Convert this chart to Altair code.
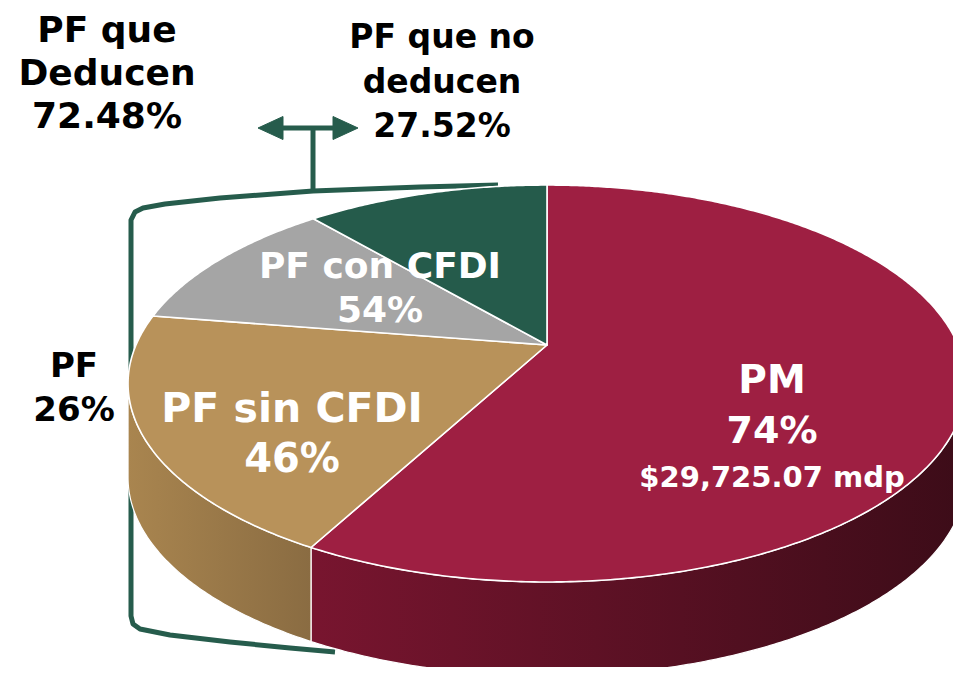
import math
import altair as alt
import pandas as pd

# ---------------- data ----------------
slice_names = ["PM", "PF sin CFDI", "PF con CFDI", "PF que no deducen"]
# share of the disc each slice occupies as drawn (percent, clockwise from 12 o'clock)
slice_shares = [57.9, 19.6, 11.2, 11.3]

pm_lines = ["PM", "74%", "$29,725.07 mdp"]
sin_lines = ["PF sin CFDI", "46%"]
con_lines = ["PF con CFDI", "54%"]
pf_lines = ["PF", "26%"]
deducen_lines = ["PF que", "Deducen", "72.48%"]
no_deducen_lines = ["PF que no", "deducen", "27.52%"]

# ---------------- styles ----------------
slice_colors = ["#9E1F42", "#B8925A", "#A5A5A5", "#255B4B"]
side_gradients = {
    "PM": ["#78152F", "#3C0C18"],
    "PF sin CFDI": ["#A9854F", "#8A6C42"],
    "PF con CFDI": ["#8A8A8A", "#7A7A7A"],
    "PF que no deducen": ["#1E4A3D", "#173A30"],
}
BRACKET = "#265C4C"
FONT = "DejaVu Sans"

# ---------------- layout / geometry ----------------
W, H = 945, 659
OFF = 8                     # page margin: geometry is computed in page pixels
X0, Y0 = 547.0, 345.0       # pie apex
A, B, K = 411.0, 191.0, 0.194  # perspective disc parameters
DEPTH = 94.0

TH_R = math.degrees(math.acos(-K))   # right silhouette angle
TH_L = 360.0 - TH_R                  # left silhouette angle


def P(theta, dy=0.0):
    t = math.radians(theta)
    u, v = math.sin(t), -math.cos(t)
    d = 1.0 - K * v
    return [X0 + A * u / d, Y0 + B * v / d + dy]


def arc_pts(a, b, step=0.5):
    n = max(2, int(abs(b - a) / step) + 1)
    return [a + (b - a) * i / (n - 1) for i in range(n)]


def feature(ring, name, kind="Polygon"):
    coords = [ring] if kind == "Polygon" else ring
    return {"type": "Feature", "properties": {"name": name},
            "geometry": {"type": kind, "coordinates": coords}}


top_feats, side_feats = [], []
start = 0.0
for name, share in zip(slice_names, slice_shares):
    a, b = start, start + share * 3.6
    start = b
    ring = [[X0, Y0]] + [P(t) for t in arc_pts(a, b)] + [[X0, Y0]]
    top_feats.append(feature(ring, name))
    lo, hi = max(a, TH_R), min(b, TH_L)
    if hi > lo:
        ts = arc_pts(lo, hi)
        ring = [P(t) for t in ts] + [P(t, DEPTH) for t in reversed(ts)]
        ring.append(ring[0])
        side_feats.append((name, feature(ring, name)))

proj = dict(type="identity", scale=1, translate=[-OFF, -OFF])

layers = []

# bracket (behind the pie)
bracket_path = [[498, 185], [420, 187], [313, 191], [220, 198], [165, 204],
                [143, 208], [135, 212], [131, 220], [131, 616], [133, 624],
                [140, 629], [170, 635], [230, 642], [290, 648], [335, 652]]
arrow_lines = [bracket_path, [[313, 191], [313, 128]], [[278, 128], [338, 128]]]
layers.append(
    alt.Chart(alt.Data(values=[feature(p, "b", "LineString") for p in arrow_lines]))
    .mark_geoshape(filled=False, stroke=BRACKET, strokeWidth=5, strokeJoin="round")
    .project(**proj)
)
heads = [
    [[258, 128], [283, 116.5], [283, 139.5], [258, 128]],
    [[358, 128], [333, 116.5], [333, 139.5], [358, 128]],
]
layers.append(
    alt.Chart(alt.Data(values=[feature(h, "h") for h in heads]))
    .mark_geoshape(fill=BRACKET, stroke=BRACKET, strokeWidth=1)
    .project(**proj)
)

# side walls
for name, feat in side_feats:
    c0, c1 = side_gradients[name]
    grad = alt.LinearGradient(
        gradient="linear", x1=0, x2=1, y1=0, y2=0,
        stops=[alt.GradientStop(color=c0, offset=0), alt.GradientStop(color=c1, offset=1)],
    )
    layers.append(
        alt.Chart(alt.Data(values=[feat]))
        .mark_geoshape(fill=grad, stroke="white", strokeWidth=1.2, strokeJoin="round")
        .project(**proj)
    )

# top faces
layers.append(
    alt.Chart(alt.Data(values=top_feats))
    .mark_geoshape(stroke="white", strokeWidth=1.6, strokeJoin="round")
    .encode(fill=alt.Fill("properties.name:N",
                          scale=alt.Scale(domain=slice_names, range=slice_colors),
                          legend=None))
    .project(**proj)
)

# texts
rows = []


def add(lines, x, ys, sizes, color):
    for t, y, s in zip(lines, ys, sizes):
        rows.append({"t": t, "x": x, "y": y, "fs": s, "col": color})


add(deducen_lines, 107, [42, 85, 128], [36, 36, 36], "#000000")
add(no_deducen_lines, 442, [48, 92.5, 137], [33, 33, 33], "#000000")
add(pf_lines, 74, [377, 421], [34, 34], "#000000")
add(con_lines, 380, [278, 322], [36, 36], "#FFFFFF")
add(sin_lines, 292, [422, 472], [41, 40], "#FFFFFF")
add(pm_lines, 772, [393, 443, 487], [39, 38, 29], "#FFFFFF")

text_df = pd.DataFrame(rows)
layers.append(
    alt.Chart(text_df)
    .mark_text(font=FONT, fontWeight="bold", align="center", baseline="alphabetic")
    .encode(
        longitude="x:Q",
        latitude="y:Q",
        text="t:N",
        size=alt.Size("fs:Q", scale=None, legend=None),
        color=alt.Color("col:N", scale=None, legend=None),
    )
    .project(**proj)
)

chart = (
    alt.layer(*layers)
    .properties(width=W, height=H, padding=0, autosize="none", background="white")
    .configure_view(stroke=None)
)

chart.save("out.html", embed_options={"renderer": "svg", "actions": False})
